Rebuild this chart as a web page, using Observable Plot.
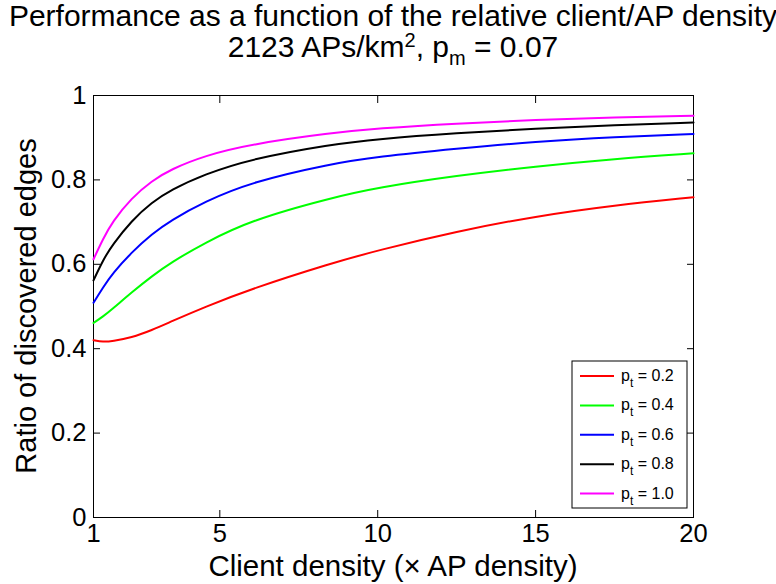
<!DOCTYPE html>
<html>
<head>
<meta charset="utf-8">
<script src="https://cdn.jsdelivr.net/npm/d3@7"></script>
<script src="https://cdn.jsdelivr.net/npm/@observablehq/plot@0.6"></script>
<style>
  body { margin: 0; background: #fff; }
  svg { font-family: Arial, "Liberation Sans", Helvetica, sans-serif; }
</style>
</head>
<body>
<div id="chart"></div>
<script>
// Client density, in multiples of the AP density
const clientDensity = [1, 1.3, 1.6, 2.2, 2.85, 3.45, 4.5, 6, 8.5, 10, 12.5, 15, 17.5, 20];

// Ratio of discovered edges for each transmission probability p_t
const ratioPt02 = [0.420, 0.416, 0.418, 0.426, 0.444, 0.464, 0.498, 0.542, 0.602, 0.633, 0.678, 0.714, 0.740, 0.759];
const ratioPt04 = [0.461, 0.476, 0.494, 0.533, 0.572, 0.604, 0.650, 0.705, 0.757, 0.782, 0.810, 0.832, 0.850, 0.863];
const ratioPt06 = [0.509, 0.545, 0.578, 0.628, 0.672, 0.704, 0.748, 0.795, 0.838, 0.855, 0.874, 0.891, 0.902, 0.909];
const ratioPt08 = [0.562, 0.610, 0.646, 0.703, 0.747, 0.776, 0.813, 0.850, 0.884, 0.897, 0.911, 0.922, 0.930, 0.936];
const ratioPt10 = [0.612, 0.660, 0.701, 0.757, 0.798, 0.825, 0.857, 0.885, 0.911, 0.922, 0.934, 0.942, 0.948, 0.952];

const ptLabels = ["0.2", "0.4", "0.6", "0.8", "1.0"];
const seriesColors = ["#ff0000", "#00ff00", "#0000ff", "#000000", "#ff00ff"];

const xTicks = [1, 5, 10, 15, 20];
const yTicks = [0, 0.2, 0.4, 0.6, 0.8, 1];
const yTickLabels = ["0", "0.2", "0.4", "0.6", "0.8", "1"];

const allSeries = [ratioPt02, ratioPt04, ratioPt06, ratioPt08, ratioPt10];
const rows = allSeries.flatMap((vals, i) =>
  vals.map((v, j) => ({x: clientDensity[j], y: v, pt: ptLabels[i]}))
);

const W = 776, H = 584;
const tickFont = 25.5;

const plot = Plot.plot({
  width: W,
  height: H,
  marginLeft: 93,
  marginRight: 83,
  marginTop: 95,
  marginBottom: 67,
  style: {background: "#fff", color: "#000", fontFamily: "Arial, 'Liberation Sans', sans-serif"},
  x: {domain: [1, 20]},
  y: {domain: [0, 1]},
  color: {domain: ptLabels, range: seriesColors},
  marks: [
    Plot.frame({stroke: "#000", strokeWidth: 1}),
    // labelled axes (bottom, left)
    Plot.axisX(xTicks, {anchor: "bottom", tickSize: 0, tickPadding: 6, fontSize: tickFont, label: null, tickFormat: d => String(d)}),
    Plot.axisY(yTicks, {anchor: "left", tickSize: 0, tickPadding: 7, fontSize: tickFont, label: null, tickFormat: (d, i) => yTickLabels[i]}),
    // inward tick marks on all four sides
    Plot.axisX(xTicks, {anchor: "bottom", tickSize: -7, tickFormat: () => "", label: null}),
    Plot.axisX(xTicks, {anchor: "top", tickSize: -7, tickFormat: () => "", label: null}),
    Plot.axisY(yTicks, {anchor: "left", tickSize: -7, tickFormat: () => "", label: null}),
    Plot.axisY(yTicks, {anchor: "right", tickSize: -7, tickFormat: () => "", label: null}),
    Plot.line(rows, {x: "x", y: "y", z: "pt", stroke: "pt", strokeWidth: 2, curve: "basis"})
  ]
});

document.getElementById("chart").appendChild(plot);

const svg = d3.select(plot);
const xs = plot.scale("x"), ys = plot.scale("y");
const cx = (xs.apply(1) + xs.apply(20)) / 2;
const cy = (ys.apply(0) + ys.apply(1)) / 2;

// Title
svg.append("text")
  .attr("x", cx).attr("y", 26)
  .attr("text-anchor", "middle")
  .attr("font-size", 30)
  .text("Performance as a function of the relative client/AP density");

const t2 = svg.append("text")
  .attr("x", cx).attr("y", 57)
  .attr("text-anchor", "middle")
  .attr("font-size", 30);
t2.append("tspan").text("2123 APs/km");
t2.append("tspan").attr("font-size", 20).attr("dy", -10).text("2");
t2.append("tspan").attr("dy", 10).text(", p");
t2.append("tspan").attr("font-size", 20).attr("dy", 8).text("m");
t2.append("tspan").attr("dy", -8).text(" = 0.07");

// Axis labels
svg.append("text")
  .attr("x", cx).attr("y", 576)
  .attr("text-anchor", "middle")
  .attr("font-size", 29.5)
  .text("Client density (\u00d7 AP density)");

svg.append("text")
  .attr("transform", `translate(36,${cy}) rotate(-90)`)
  .attr("text-anchor", "middle")
  .attr("font-size", 29)
  .text("Ratio of discovered edges");

// Legend
const lg = svg.append("g").attr("text-anchor", "start");
const lgX = 572, lgY = 361, lgW = 115, lgH = 147, rowH = 29.4;
lg.append("rect")
  .attr("x", lgX).attr("y", lgY).attr("width", lgW).attr("height", lgH)
  .attr("fill", "#fff").attr("stroke", "#000").attr("stroke-width", 1);
ptLabels.forEach((lab, i) => {
  const yy = lgY + 15 + i * rowH;
  lg.append("line")
    .attr("x1", lgX + 8).attr("x2", lgX + 42)
    .attr("y1", yy).attr("y2", yy)
    .attr("stroke", seriesColors[i]).attr("stroke-width", 2);
  const tx = lg.append("text")
    .attr("x", lgX + 49).attr("y", yy + 5)
    .attr("text-anchor", "start")
    .attr("font-size", 16);
  tx.append("tspan").text("p");
  tx.append("tspan").attr("font-size", 12).attr("dy", 6).text("t");
  tx.append("tspan").attr("dy", -6).text(" = " + lab);
});
</script>
</body>
</html>
